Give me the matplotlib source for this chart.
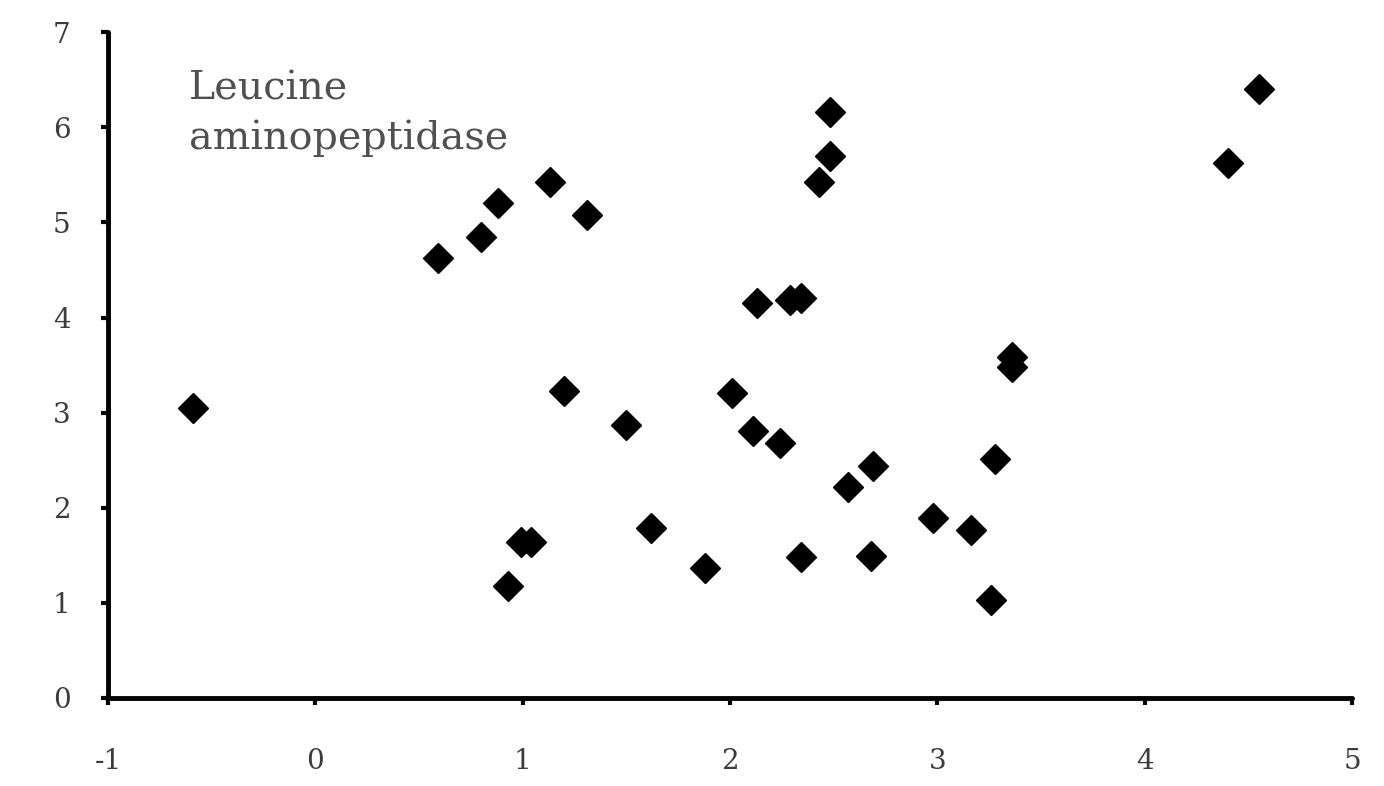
import matplotlib
matplotlib.use("Agg")
import matplotlib.pyplot as plt

x_vals = [-0.59, 0.59, 0.80, 0.88, 1.13, 1.31, 1.20, 1.50, 1.62, 1.88,
          0.93, 0.99, 1.04, 2.01, 2.11, 2.24, 2.13, 2.29, 2.34, 2.43,
          2.48, 2.48, 2.34, 2.57, 2.69, 2.68, 2.98, 3.16, 3.28, 3.26,
          3.36, 3.36, 4.40, 4.55]
y_vals = [3.05, 4.63, 4.85, 5.20, 5.43, 5.08, 3.23, 2.87, 1.79, 1.37,
          1.18, 1.64, 1.64, 3.21, 2.81, 2.68, 4.15, 4.18, 4.21, 5.42,
          5.70, 6.16, 1.48, 2.22, 2.44, 1.49, 1.89, 1.77, 2.51, 1.03,
          3.59, 3.48, 5.62, 6.40]
x_ticks = [-1, 0, 1, 2, 3, 4, 5]
y_ticks = [0, 1, 2, 3, 4, 5, 6, 7]
label = "Leucine\naminopeptidase"

fig = plt.figure(figsize=(13.84, 7.86), dpi=100)
ax = fig.add_axes([0.078, 0.112, 0.899, 0.847])

ax.plot(x_vals, y_vals, linestyle="none", marker="D", markersize=15,
        color="black")

ax.set_xlim(-1, 5)
ax.set_ylim(0, 7)
ax.set_xticks(x_ticks)
ax.set_yticks(y_ticks)
ax.set_xticklabels([str(t) for t in x_ticks])
ax.set_yticklabels([str(t) for t in y_ticks])

for side in ["top", "right"]:
    ax.spines[side].set_visible(False)
for side in ["left", "bottom"]:
    ax.spines[side].set_linewidth(3.5)
    ax.spines[side].set_capstyle("round")

ax.tick_params(axis="both", direction="out", length=5, width=3,
               labelsize=20, labelcolor="#3c3c3c")
ax.tick_params(axis="x", pad=31)
ax.tick_params(axis="y", pad=22)
for lab in ax.get_xticklabels() + ax.get_yticklabels():
    lab.set_family("DejaVu Serif")

ax.text(-0.61, 6.6, label, fontsize=28.5, family="DejaVu Serif",
        color="#505050", va="top", ha="left", linespacing=1.4)

fig.savefig("out.png", dpi=100)
